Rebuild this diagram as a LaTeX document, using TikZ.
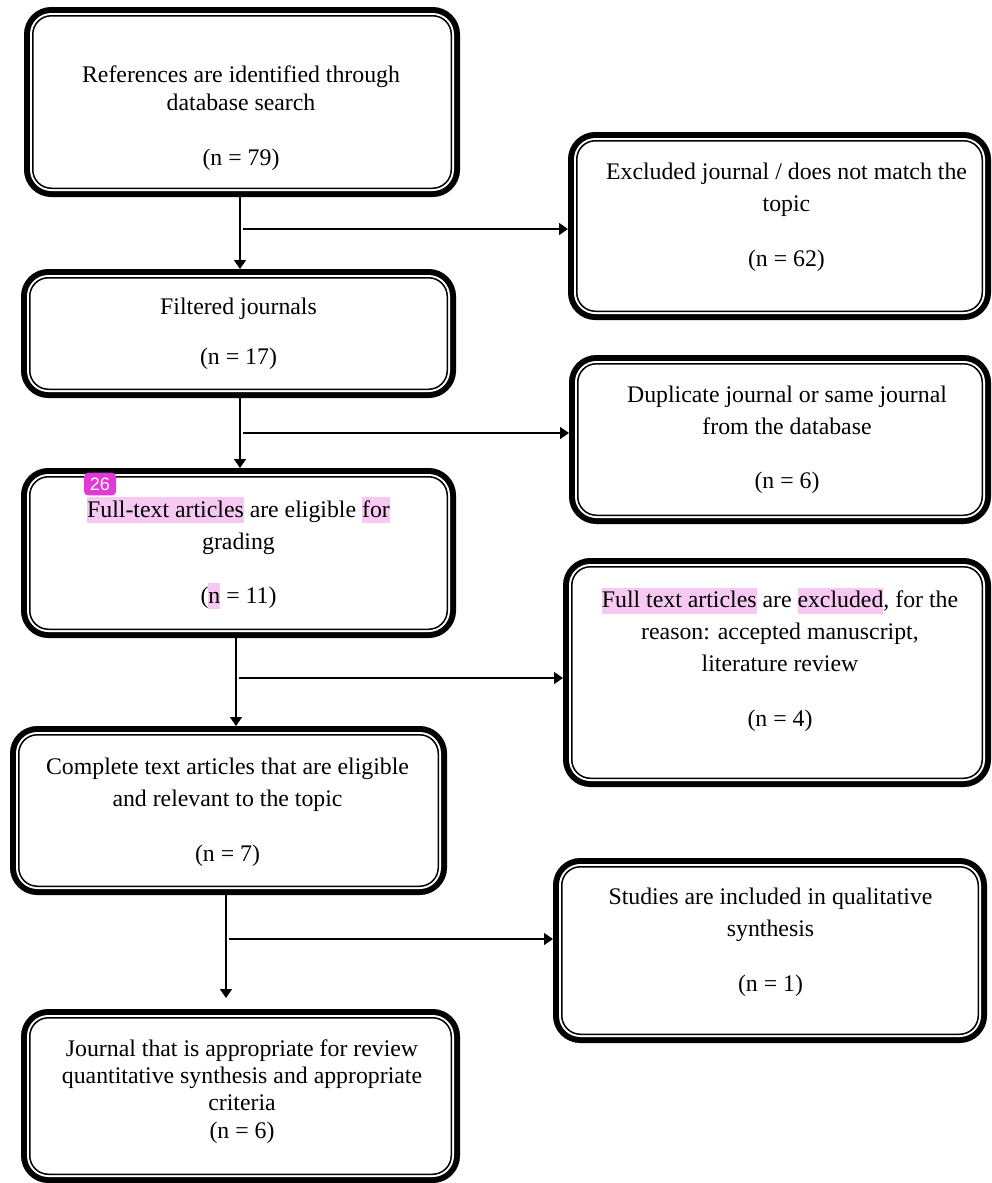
\documentclass[tikz,border=0pt]{standalone}
\usepackage{fontspec}
\setmainfont{Liberation Serif}
\newfontfamily\badgefont{Liberation Sans}
\usetikzlibrary{arrows.meta}
\definecolor{pinkhl}{RGB}{246,200,242}
\definecolor{badgemag}{RGB}{226,56,214}
\newcommand{\hlt}[1]{{\setlength{\fboxsep}{0pt}\smash{\colorbox{pinkhl}{\rule[-4.5pt]{0pt}{19.5pt}#1}}}}
\tikzset{
  flowbox/.style={rectangle, rounded corners=14pt, fill=white, draw=black,
    line width=1.125pt, inner sep=0pt, outer sep=6.5625pt,
    preaction={draw=black, line width=13.125pt},
    preaction={draw=white, line width=4.125pt}},
  txt/.style={align=center, inner sep=0pt, font=\fontsize{17.85pt}{24pt}\selectfont},
  txtA/.style={align=center, inner sep=0pt, font=\fontsize{17.85pt}{21pt}\selectfont},
  txtB/.style={align=center, inner sep=0pt, font=\fontsize{17.85pt}{20.5pt}\selectfont},
  arr/.style={line width=1.15pt, -{Triangle[length=6.75pt,width=9pt]}},
  badge/.style={fill=badgemag, rounded corners=3pt, text=white, inner sep=0pt,
    minimum width=24pt, minimum height=17pt,
    font=\badgefont\fontsize{13.5pt}{13.5pt}\selectfont}
}
\begin{document}
\begin{tikzpicture}[x=0.75pt, y=-0.75pt]
\useasboundingbox (0,0) rectangle (992,1183);
% boxes
\node[flowbox, minimum width=313.875pt, minimum height=129.375pt] (b1) at (242,102) {};
\node[flowbox, minimum width=304.125pt, minimum height=127.875pt] (b2) at (779.5,226) {};
\node[flowbox, minimum width=313.125pt, minimum height=83.625pt] (b3) at (238.5,333.5) {};
\node[flowbox, minimum width=303.375pt, minimum height=113.625pt] (b4) at (780,439.5) {};
\node[flowbox, minimum width=313.125pt, minimum height=114.375pt] (b5) at (238.5,553) {};
\node[flowbox, minimum width=307.875pt, minimum height=158.625pt] (b6) at (777,672.5) {};
\node[flowbox, minimum width=314.625pt, minimum height=113.625pt] (b7) at (228.5,810.5) {};
\node[flowbox, minimum width=312.375pt, minimum height=125.625pt] (b8) at (770,950.5) {};
\node[flowbox, minimum width=316.125pt, minimum height=117.375pt] (b9) at (240.5,1096) {};
% texts
\node[txtA] (t1) at (241,117.7) {References are identified through\\database search\\[20.25pt](n = 79)};
\node[txt] (t2) at (786.5,217.2) {Excluded journal / does not match the\\topic\\[17.25pt](n = 62)};
\node[txt] (t3) at (238.5,334.2) {Filtered journals\\[13.5pt](n = 17)};
\node[txt] (t4) at (787,439.7) {Duplicate journal or same journal\\from the database\\[16.5pt](n = 6)};
\node[txt] (t5) at (238.5,554.7) {\hlt{Full-text articles} are eligible \hlt{for}\\grading\\[16.5pt](\hlt{n} = 11)};
\node[txt] (t6) at (780,661.2) {\hlt{Full text articles} are \hlt{excluded}, for the\\reason: accepted manuscript,\\literature review\\[17.25pt](n = 4)};
\node[txt] (t7) at (227.5,812.7) {Complete text articles that are eligible\\and relevant to the topic\\[17.25pt](n = 7)};
\node[txt] (t8) at (770.5,942.2) {Studies are included in qualitative\\synthesis\\[17.25pt](n = 1)};
\node[txtB] (t9) at (242,1091.2) {Journal that is appropriate for review\\quantitative synthesis and appropriate\\criteria\\(n = 6)};
% badge
\node[badge] (bdg) at (100,484) {26};
% connectors
\coordinate (j1) at (240,229);
\coordinate (j2) at (240,433);
\coordinate (j3) at (236,678);
\coordinate (j4) at (226,939);
\coordinate (e4) at ([yshift=8.25pt]b9.north);
\draw[arr] (b1.south -| j1) -- (b3.north -| j1);
\draw[arr] ([xshift=2.25pt]j1) -- (j1 -| b2.west);
\draw[arr] (b3.south -| j2) -- (b5.north -| j2);
\draw[arr] ([xshift=2.25pt]j2) -- (j2 -| b4.west);
\draw[arr] (b5.south -| j3) -- (b7.north -| j3);
\draw[arr] ([xshift=2.25pt]j3) -- (j3 -| b6.west);
\draw[arr] (b7.south -| j4) -- (e4 -| j4);
\draw[arr] ([xshift=2.25pt]j4) -- (j4 -| b8.west);
\end{tikzpicture}
\end{document}
